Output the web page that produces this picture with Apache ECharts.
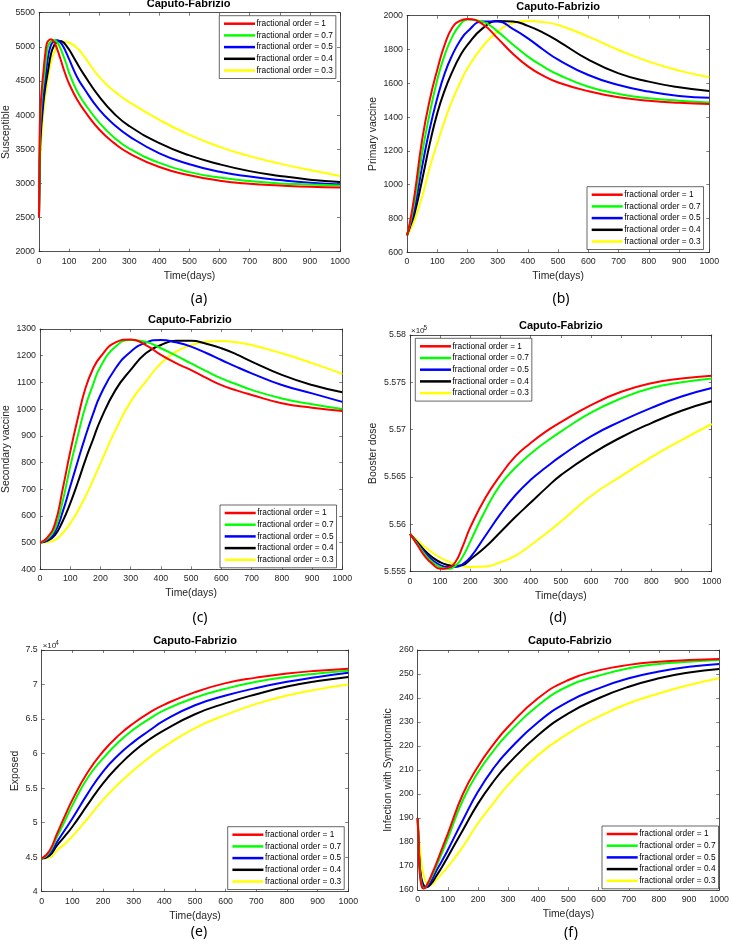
<!DOCTYPE html>
<html>
<head>
<meta charset="utf-8">
<script src="https://cdn.jsdelivr.net/npm/echarts@6/dist/echarts.min.js"></script>
<style>
html,body{margin:0;padding:0;background:#fff;}
#chart{width:732px;height:944px;}
</style>
</head>
<body>
<div id="chart"></div>
<script>
// ---------- data ----------
const orders = ['1', '0.7', '0.5', '0.4', '0.3'];
const colors = ['#FF0000', '#00FF00', '#0000FF', '#000000', '#FFFF00'];

// (a) Susceptible
const daysA = [0, 2, 4, 7, 10, 15, 20, 25, 30, 40, 50, 60, 70, 80, 90, 100, 125, 150, 200, 250, 300, 400, 500, 600, 700, 800, 900, 1000];
const susR = [2500, 3600, 4050, 4250, 4420, 4650, 4870, 5030, 5085, 5112, 5070, 4970, 4840, 4700, 4570, 4460, 4240, 4070, 3790, 3590, 3440, 3240, 3120, 3040, 2995, 2970, 2950, 2940];
const susG = [2500, 3400, 3850, 4100, 4300, 4480, 4680, 4880, 5010, 5080, 5100, 5070, 4990, 4880, 4760, 4620, 4360, 4180, 3890, 3670, 3510, 3300, 3165, 3085, 3035, 3000, 2985, 2970];
const susB = [2500, 3250, 3680, 3900, 4060, 4300, 4500, 4680, 4850, 5030, 5080, 5095, 5070, 5010, 4920, 4820, 4570, 4390, 4080, 3860, 3690, 3440, 3280, 3170, 3100, 3050, 3010, 2985];
const susK = [2500, 3150, 3550, 3800, 3960, 4200, 4380, 4520, 4650, 4900, 5020, 5070, 5087, 5070, 5020, 4960, 4770, 4590, 4270, 4020, 3840, 3590, 3410, 3280, 3180, 3110, 3055, 3020];
const susY = [2500, 2950, 3300, 3600, 3800, 4050, 4250, 4400, 4550, 4780, 4920, 5000, 5045, 5065, 5073, 5060, 4990, 4860, 4560, 4350, 4190, 3930, 3710, 3535, 3400, 3290, 3195, 3110];

// (b) Primary vaccine
const daysB = [0, 10, 25, 50, 75, 100, 125, 150, 175, 200, 250, 300, 350, 400, 450, 500, 600, 700, 800, 900, 1000];
const priR = [700, 780, 940, 1265, 1500, 1679, 1830, 1930, 1970, 1980, 1950, 1866, 1775, 1700, 1645, 1605, 1553, 1517, 1497, 1485, 1478];
const priG = [700, 770, 900, 1186, 1420, 1620, 1770, 1876, 1945, 1978, 1965, 1906, 1830, 1758, 1700, 1652, 1580, 1537, 1511, 1497, 1487];
const priB = [700, 760, 860, 1107, 1330, 1511, 1660, 1768, 1850, 1906, 1965, 1965, 1922, 1866, 1800, 1740, 1649, 1590, 1551, 1525, 1515];
const priK = [700, 750, 830, 1028, 1240, 1422, 1560, 1669, 1760, 1827, 1925, 1968, 1966, 1940, 1900, 1850, 1740, 1659, 1610, 1576, 1554];
const priY = [700, 730, 790, 929, 1100, 1245, 1380, 1501, 1600, 1689, 1817, 1906, 1955, 1968, 1962, 1945, 1876, 1797, 1728, 1675, 1636];

// (c) Secondary vaccine
const daysC = [0, 25, 50, 75, 100, 125, 150, 175, 200, 250, 300, 350, 400, 450, 500, 550, 600, 650, 700, 800, 900, 1000];
const secR = [500, 520, 572, 700, 840, 965, 1077, 1150, 1196, 1250, 1261, 1240, 1203, 1172, 1146, 1117, 1090, 1070, 1053, 1022, 1005, 993];
const secG = [500, 515, 553, 655, 785, 900, 1009, 1090, 1159, 1234, 1259, 1252, 1228, 1200, 1171, 1142, 1115, 1093, 1072, 1040, 1018, 1000];
const secB = [500, 510, 541, 615, 710, 805, 897, 980, 1053, 1153, 1215, 1249, 1259, 1250, 1234, 1210, 1184, 1158, 1134, 1090, 1059, 1027];
const secK = [500, 507, 529, 580, 647, 725, 809, 885, 959, 1072, 1147, 1209, 1240, 1256, 1256, 1245, 1228, 1205, 1178, 1128, 1090, 1063];
const secY = [500, 502, 510, 535, 572, 618, 672, 733, 797, 922, 1028, 1103, 1172, 1215, 1240, 1252, 1255, 1250, 1240, 1209, 1172, 1132];

// (d) Booster dose
const daysD = [0, 25, 50, 75, 100, 125, 150, 175, 200, 250, 300, 350, 400, 450, 500, 600, 700, 800, 900, 1000];
const booR = [555900, 555780, 555660, 555580, 555530, 555540, 555600, 555770, 555970, 556280, 556520, 556720, 556860, 556980, 557080, 557260, 557400, 557490, 557540, 557570];
const booG = [555900, 555790, 555680, 555600, 555550, 555530, 555560, 555660, 555820, 556150, 556420, 556600, 556745, 556870, 556980, 557180, 557330, 557440, 557500, 557540];
const booB = [555900, 555800, 555700, 555620, 555570, 555550, 555550, 555580, 555650, 555880, 556110, 556310, 556470, 556600, 556720, 556930, 557090, 557230, 557350, 557440];
const booK = [555900, 555810, 555720, 555650, 555600, 555570, 555560, 555570, 555630, 555760, 555920, 556080, 556230, 556380, 556520, 556740, 556920, 557070, 557200, 557300];
const booY = [555900, 555830, 555760, 555700, 555650, 555610, 555580, 555560, 555550, 555555, 555600, 555670, 555780, 555900, 556030, 556300, 556510, 556710, 556890, 557060];

// (e) Exposed
const daysE = [0, 25, 50, 75, 100, 150, 200, 250, 300, 350, 400, 500, 600, 700, 800, 900, 1000];
const expR = [44800, 45900, 48400, 50900, 53300, 57300, 60300, 62600, 64400, 65900, 67100, 68900, 70200, 71000, 71600, 72000, 72300];
const expG = [44800, 45700, 47960, 50200, 52500, 56500, 59300, 61650, 63500, 65000, 66300, 68100, 69400, 70400, 71100, 71600, 72000];
const expB = [44800, 45400, 47200, 48900, 50600, 54200, 57400, 59800, 61700, 63300, 64800, 67000, 68400, 69500, 70400, 71100, 71700];
const expK = [44800, 45200, 46700, 48000, 49400, 52600, 55700, 58200, 60300, 62000, 63400, 65700, 67300, 68600, 69700, 70500, 71100];
const expY = [44800, 44900, 46000, 46900, 48000, 50600, 53300, 55600, 57600, 59400, 61000, 63700, 65600, 67200, 68400, 69300, 70000];

// (f) Infection with Symptomatic
const daysF = [0, 3, 6, 10, 15, 20, 25, 30, 40, 50, 60, 80, 100, 150, 200, 250, 300, 400, 500, 600, 700, 800, 900, 1000];
const symR = [190, 177, 168.5, 163.5, 161, 160.6, 161, 162, 164.5, 167.5, 170.5, 177, 183.5, 200, 211.5, 220.5, 228, 240, 247.5, 251.5, 253.8, 255.1, 255.8, 256.2];
const symG = [190, 178, 170, 164.5, 161.5, 160.8, 161, 161.8, 164, 166.5, 169.3, 175.3, 181.5, 197.5, 209, 217.8, 225.2, 237, 245, 249.3, 252.4, 254.2, 255.1, 255.8];
const symB = [190, 179, 171, 165.5, 162.5, 161.2, 161, 161.3, 162.8, 165, 167.5, 172, 176.7, 189.2, 201, 210.5, 218, 230, 238.5, 244, 248.2, 251, 253, 254.2];
const symK = [190, 180, 172, 166.5, 163.5, 162, 161.3, 161.2, 162, 163.5, 165.5, 169.5, 173.9, 185, 196, 205, 212.5, 224.6, 233.6, 239.9, 244.7, 248.2, 250.6, 252.1];
const symY = [190, 184, 179, 174, 169, 166, 164, 162.8, 161.8, 162.5, 164, 166.8, 169.7, 178.1, 187.8, 196, 203.8, 216.3, 225.3, 232.2, 237.8, 241.9, 245.4, 248.2];

// axis ranges / ticks
const yMin = [2000, 600, 400, 555500, 40000, 160];
const yMax = [5500, 2000, 1300, 558000, 75000, 260];
const yStep = [500, 200, 100, 500, 5000, 10];
const yNames = ['Susceptible', 'Primary vaccine', 'Secondary vaccine', 'Booster dose', 'Exposed', 'Infection with Symptomatic'];
const panelTags = ['(a)', '(b)', '(c)', '(d)', '(e)', '(f)'];
const titleText = 'Caputo-Fabrizio';

// ---------- layout (px) ----------
const grids = [
  {left: 37.3, top: 12.7, width: 302.7, height: 239},
  {left: 407, top: 15.7, width: 302.3, height: 236.6},
  {left: 37.3, top: 329, width: 305, height: 240.3},
  {left: 410, top: 335, width: 301.7, height: 236.7},
  {left: 41.7, top: 650, width: 306.6, height: 241.7},
  {left: 417.7, top: 650, width: 304.3, height: 240}
];
const legendPos = [
  {left: 219.3, top: 15.7},
  {left: 587, top: 186.7},
  {left: 220, top: 505},
  {left: 415.3, top: 338.3},
  {left: 227.7, top: 826.7},
  {left: 602, top: 826}
];
const yNameGap = [28, 29, 29, 32, 22, 25];
const tagPos = [[199, 299], [561, 299], [200, 618], [558, 618], [199, 932], [571, 933]];

const panelDays = [daysA, daysB, daysC, daysD, daysE, daysF];
const panelVals = [
  [susR, susG, susB, susK, susY],
  [priR, priG, priB, priK, priY],
  [secR, secG, secB, secK, secY],
  [booR, booG, booB, booK, booY],
  [expR, expG, expB, expK, expY],
  [symR, symG, symB, symK, symY]
];

const FONT = 'Liberation Sans, Arial, Helvetica, sans-serif';
const AX = '#262626';
const names = orders.map(o => 'fractional order = ' + o);

function yLabelFmt(p) {
  if (p === 3) return v => String(parseFloat((v / 1e5).toFixed(4)));
  if (p === 4) return v => String(parseFloat((v / 1e4).toFixed(3)));
  return v => String(v);
}

const xAxes = [], yAxes = [], series = [], legends = [], graphics = [];
grids.forEach((g, p) => {
  const tickStyle = {inside: true, length: 3, lineStyle: {color: AX, width: 0.6}};
  const lineStyle = {show: true, onZero: false, lineStyle: {color: AX, width: 0.8}};
  xAxes.push({
    gridIndex: p, type: 'value', position: 'bottom', min: 0, max: 1000, interval: 100,
    axisLine: lineStyle, axisTick: tickStyle, splitLine: {show: false},
    axisLabel: {fontSize: 8.8, color: AX, fontFamily: FONT, margin: 5, formatter: v => String(v)},
    name: 'Time(days)', nameLocation: 'middle', nameGap: 19,
    nameTextStyle: {fontSize: 10.4, color: AX, fontFamily: FONT}
  });
  xAxes.push({
    gridIndex: p, type: 'value', position: 'top', min: 0, max: 1000, interval: 100,
    axisLine: lineStyle, axisTick: tickStyle, splitLine: {show: false}, axisLabel: {show: false}
  });
  yAxes.push({
    gridIndex: p, type: 'value', position: 'left', min: yMin[p], max: yMax[p], interval: yStep[p],
    axisLine: lineStyle, axisTick: tickStyle, splitLine: {show: false},
    axisLabel: {fontSize: 8.8, color: AX, fontFamily: FONT, margin: 4, formatter: yLabelFmt(p)},
    name: yNames[p], nameLocation: 'middle', nameGap: yNameGap[p],
    nameTextStyle: {fontSize: 10.4, color: AX, fontFamily: FONT}
  });
  yAxes.push({
    gridIndex: p, type: 'value', position: 'right', min: yMin[p], max: yMax[p], interval: yStep[p],
    axisLine: lineStyle, axisTick: tickStyle, splitLine: {show: false}, axisLabel: {show: false}
  });
  panelVals[p].forEach((vals, k) => {
    series.push({
      type: 'line', name: names[k], xAxisIndex: 2 * p, yAxisIndex: 2 * p,
      data: panelDays[p].map((d, i) => [d, vals[i]]),
      showSymbol: false, smooth: 0.5,
      lineStyle: {color: colors[k], width: 2}, itemStyle: {color: colors[k]},
      z: 10 - k, silent: true
    });
  });
  legends.push({
    left: legendPos[p].left, top: legendPos[p].top, orient: 'vertical', data: names,
    icon: 'rect', itemWidth: 31, itemHeight: 2.5, itemGap: 1.7,
    backgroundColor: '#fff', borderColor: AX, borderWidth: 0.7, borderRadius: 0,
    padding: [3, 3, 3, 4.7], selectedMode: false,
    textStyle: {fontSize: 8.3, fontFamily: FONT, color: '#000', lineHeight: 10, padding: [0, 0, 0, -3.5]}
  });
  graphics.push({
    type: 'text', x: g.left + g.width / 2, y: p < 2 ? g.top - 8.5 : g.top - 9,
    style: {text: titleText, font: 'bold 11px ' + FONT, fill: '#000', textAlign: 'center', textVerticalAlign: 'middle'}
  });
  graphics.push({
    type: 'text', x: tagPos[p][0], y: tagPos[p][1],
    style: {text: panelTags[p], font: '14px "Noto Sans", "Open Sans", sans-serif', fill: '#000', textAlign: 'center', textVerticalAlign: 'middle'}
  });
});
// exponent annotations
[[3, 5], [4, 4]].forEach(([p, e]) => {
  const g = grids[p];
  graphics.push({type: 'text', x: g.left + 1, y: g.top - 4,
    style: {text: '\u00d710', font: '8px ' + FONT, fill: AX, textAlign: 'left', textVerticalAlign: 'middle'}});
  graphics.push({type: 'text', x: g.left + 13.5, y: g.top - 7,
    style: {text: String(e), font: '6.5px ' + FONT, fill: AX, textAlign: 'left', textVerticalAlign: 'middle'}});
});

const chart = echarts.init(document.getElementById('chart'), null, {renderer: 'canvas'});
chart.setOption({
  animation: false,
  backgroundColor: '#fff',
  grid: grids.map(g => Object.assign({containLabel: false}, g)),
  xAxis: xAxes, yAxis: yAxes, series: series, legend: legends, graphic: graphics
});
</script>
</body>
</html>
